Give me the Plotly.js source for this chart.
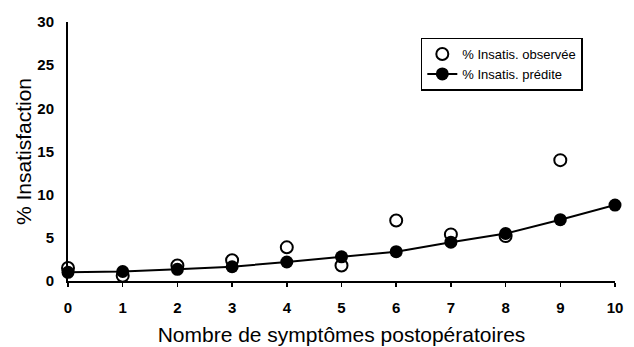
<!DOCTYPE html>
<html><head><meta charset="utf-8">
<script src="https://cdn.plot.ly/plotly-3.0.1.min.js"></script>
<style>html,body{margin:0;padding:0;background:#fff}#c{width:634px;height:347px}</style>
</head><body><div id="c"></div>
<script>
var symptoms = [0,1,2,3,4,5,6,7,8,9,10];
var observedX = [0,1,2,3,4,5,6,7,8,9];
var observed = [1.5,0.6,1.8,2.4,3.9,1.8,7.0,5.4,5.2,14.0];
var predicted = [1.0,1.1,1.35,1.65,2.2,2.8,3.4,4.5,5.5,7.1,8.8];
var yTicks = [0,5,10,15,20,25,30];
var seriesNames = ['% Insatis. observée','% Insatis. prédite'];

var font = 'Liberation Sans, Arial, sans-serif';
var traces = [
  {x: observedX, y: observed, name: seriesNames[0], mode: 'markers', type: 'scatter', cliponaxis: false,
   marker: {symbol: 'circle-open', size: 12, color: '#000', line: {width: 2, color: '#000'}}},
  {x: symptoms, y: predicted, name: seriesNames[1], mode: 'lines+markers', type: 'scatter', cliponaxis: false,
   line: {color: '#000', width: 2}, marker: {symbol: 'circle', size: 13, color: '#000'}}
];
var layout = {
  width: 634, height: 347,
  margin: {l: 68, r: 19, t: 22, b: 66},
  paper_bgcolor: '#fff', plot_bgcolor: '#fff',
  showlegend: true,
  legend: {x: 0.645, y: 0.94, xanchor: 'left', yanchor: 'top', bordercolor: '#000', borderwidth: 1.5,
    bgcolor: '#fff', font: {family: font, size: 13, color: '#000'}, tracegroupgap: 0, itemwidth: 30},
  xaxis: {range: [0, 10], tickvals: symptoms, ticktext: symptoms.map(String), showgrid: false, zeroline: false,
    showline: true, linecolor: '#000', linewidth: 2, ticks: 'outside', ticklen: 4, tickwidth: 1.5, tickcolor: '#000',
    ticklabelstandoff: 8,
    tickfont: {family: font, size: 15, color: '#000', weight: 'bold'},
    title: {text: 'Nombre de symptômes postopératoires', font: {family: font, size: 21, color: '#000'}, standoff: 12}},
  yaxis: {range: [0, 30], tickvals: yTicks, ticktext: yTicks.map(String), showgrid: false, zeroline: false,
    showline: true, linecolor: '#000', linewidth: 2, ticks: '', ticklen: 0, ticklabelstandoff: 9,
    tickfont: {family: font, size: 15, color: '#000', weight: 'bold'},
    title: {text: '% Insatisfaction', font: {family: font, size: 21, color: '#000'}, standoff: 0}}
};
Plotly.newPlot('c', traces, layout, {staticPlot: true, displayModeBar: false});
</script></body></html>
